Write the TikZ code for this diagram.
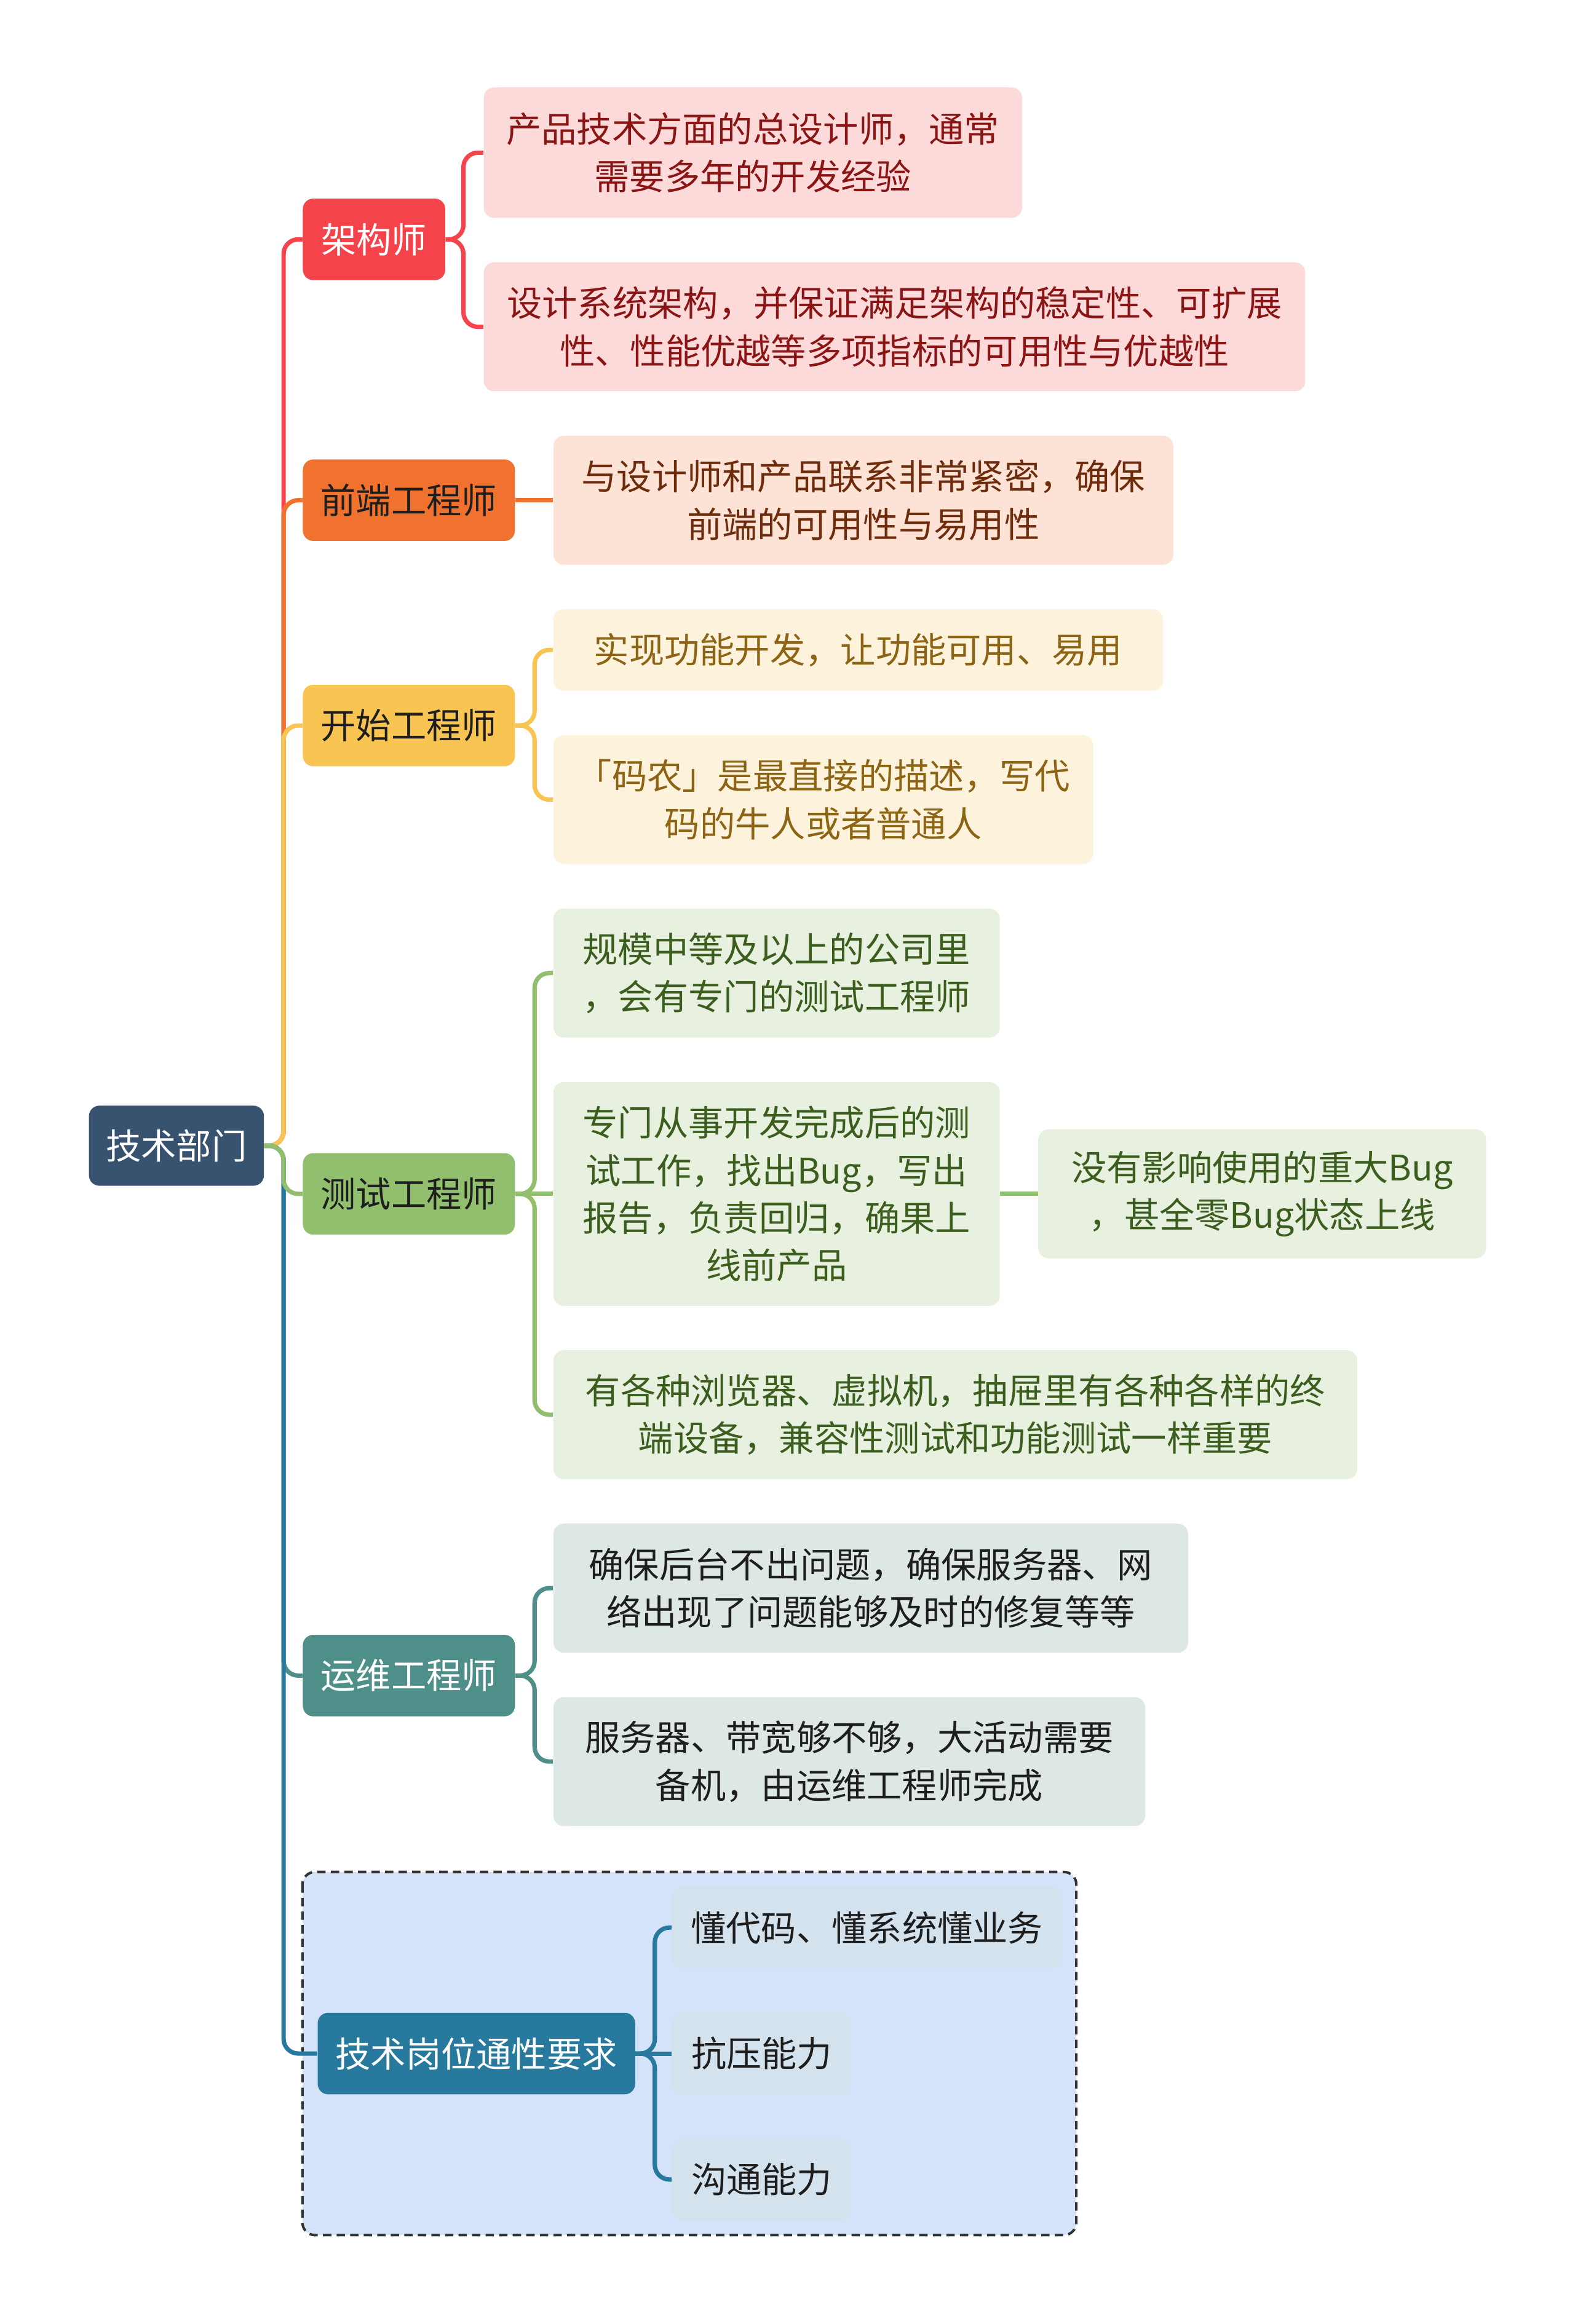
\documentclass[tikz,border=0pt]{standalone}
\usepackage{fontspec}
\setmainfont{Noto Sans CJK SC}
\usepackage{tikz}

\definecolor{rootnavy}{HTML}{37536F}
\definecolor{archred}{HTML}{F4434A}
\definecolor{archfill}{HTML}{FCDADA}
\definecolor{archtext}{HTML}{8B1414}
\definecolor{feorange}{HTML}{F0722E}
\definecolor{fefill}{HTML}{FCE3D6}
\definecolor{fetext}{HTML}{6E2C0C}
\definecolor{devyellow}{HTML}{F8C553}
\definecolor{devfill}{HTML}{FDF3DC}
\definecolor{devtext}{HTML}{8C6414}
\definecolor{testgreen}{HTML}{92BF6E}
\definecolor{testfill}{HTML}{E8F1E0}
\definecolor{testtext}{HTML}{3B5E1E}
\definecolor{opsteal}{HTML}{4E8F8A}
\definecolor{opsfill}{HTML}{DDE8E6}
\definecolor{comblue}{HTML}{27799E}
\definecolor{comfill}{HTML}{D3E2EC}
\definecolor{boxblue}{HTML}{D5E3FA}
\definecolor{darktext}{HTML}{1E1E1E}

\tikzset{
  txt/.style={font=\fontsize{16.9}{22.8}\selectfont, align=center},
  topic/.style={txt, rounded corners=5pt, anchor=west, minimum height=1.375cm, inner xsep=0.3cm},
  leaf/.style={txt, rounded corners=5pt, anchor=west, inner xsep=0.3cm},
  link/.style={line width=2.1pt, rounded corners=7pt},
}

\begin{document}
\begin{tikzpicture}[x=0.025cm, y=-0.025cm]
\useasboundingbox (0,0) rectangle (1062,1568);

% frame round the common requirements
\draw[dashed, dash pattern=on 4pt off 2.5pt, line width=1.2pt, draw=black!80, fill=boxblue, rounded corners=6pt] (204,1263) rectangle (726,1508);

% root
\node[txt, fill=rootnavy, text=white, rounded corners=5pt, minimum width=2.95cm, minimum height=1.35cm] (root) at (119,773) {技术部门};

% main topics
\node[topic, fill=archred, text=white, minimum width=2.4cm] (arch) at (204,161.5) {架构师};
\node[topic, fill=feorange, text=darktext, minimum width=3.575cm] (fe) at (204,337.5) {前端工程师};
\node[topic, fill=devyellow, text=darktext, minimum width=3.575cm] (dev) at (204,489.5) {开始工程师};
\node[topic, fill=testgreen, text=darktext, minimum width=3.575cm] (test) at (204,805.5) {测试工程师};
\node[topic, fill=opsteal, text=white, minimum width=3.575cm] (ops) at (204,1130.5) {运维工程师};
\node[topic, fill=comblue, text=white, minimum width=5.35cm] (com) at (214,1385.5) {技术岗位通性要求};

% architect
\node[leaf, fill=archfill, text=archtext, minimum width=9.075cm, minimum height=2.2cm] (a1) at (326,103) {产品技术方面的总设计师，通常\\需要多年的开发经验};
\node[leaf, fill=archfill, text=archtext, minimum width=13.85cm, minimum height=2.175cm] (a2) at (326,220.5) {设计系统架构，并保证满足架构的稳定性、可扩展\\性、性能优越等多项指标的可用性与优越性};

% front end
\node[leaf, fill=fefill, text=fetext, minimum width=10.45cm, minimum height=2.175cm] (b1) at (373,337.5) {与设计师和产品联系非常紧密，确保\\前端的可用性与易用性};

% developer
\node[leaf, fill=devfill, text=devtext, minimum width=10.275cm, minimum height=1.375cm] (c1) at (373,438.5) {实现功能开发，让功能可用、易用};
\node[leaf, fill=devfill, text=devtext, minimum width=9.1cm, minimum height=2.175cm] (c2) at (373,539.5) {「码农」是最直接的描述，写代\\码的牛人或者普通人};

% tester
\node[leaf, fill=testfill, text=testtext, minimum width=7.525cm, minimum height=2.175cm] (d1) at (373,656.5) {规模中等及以上的公司里\\，会有专门的测试工程师};
\node[leaf, fill=testfill, text=testtext, minimum width=7.525cm, minimum height=3.775cm] (d2) at (373,805.5) {专门从事开发完成后的测\\试工作，找出Bug，写出\\报告，负责回归，确果上\\线前产品};
\node[leaf, fill=testfill, text=testtext, minimum width=7.55cm, minimum height=2.175cm] (d2a) at (700,805.5) {没有影响使用的重大Bug\\，甚全零Bug状态上线};
\node[leaf, fill=testfill, text=testtext, minimum width=13.55cm, minimum height=2.175cm] (d3) at (373,954.5) {有各种浏览器、虚拟机，抽屉里有各种各样的终\\端设备，兼容性测试和功能测试一样重要};

% operations
\node[leaf, fill=opsfill, text=darktext, minimum width=10.7cm, minimum height=2.175cm] (e1) at (373,1071.5) {确保后台不出问题，确保服务器、网\\络出现了问题能够及时的修复等等};
\node[leaf, fill=opsfill, text=darktext, minimum width=9.975cm, minimum height=2.175cm] (e2) at (373,1188.5) {服务器、带宽够不够，大活动需要\\备机，由运维工程师完成};

% common requirements
\node[leaf, fill=comfill, text=darktext, minimum width=6.575cm, minimum height=1.375cm] (f1) at (453,1300.5) {懂代码、懂系统懂业务};
\node[leaf, fill=comfill, text=darktext, minimum width=3.025cm, minimum height=1.375cm] (f2) at (453,1385.5) {抗压能力};
\node[leaf, fill=comfill, text=darktext, minimum width=3.025cm, minimum height=1.375cm] (f3) at (453,1470.5) {沟通能力};

% trunk
\draw[link, archred] (root.east) -- ++(13,0) |- (arch.west);
\draw[link, feorange] (root.east) -- ++(13,0) |- (fe.west);
\draw[link, devyellow] (root.east) -- ++(13,0) |- (dev.west);
\draw[link, opsteal] (root.east) -- ++(13,0) |- (ops.west);
\draw[link, comblue] (root.east) -- ++(13,0) |- (com.west);
\draw[link, testgreen] (root.east) -- ++(13,0) |- (test.west);

% branches
\draw[link, archred] (arch.east) -- ++(12,0) |- (a1.west);
\draw[link, archred] (arch.east) -- ++(12,0) |- (a2.west);
\draw[link, feorange] (fe.east) -- (b1.west);
\draw[link, devyellow] (dev.east) -- ++(13,0) |- (c1.west);
\draw[link, devyellow] (dev.east) -- ++(13,0) |- (c2.west);
\draw[link, testgreen] (test.east) -- ++(13,0) |- (d1.west);
\draw[link, testgreen] (test.east) -- (d2.west);
\draw[link, testgreen] (test.east) -- ++(13,0) |- (d3.west);
\draw[link, testgreen] (d2.east) -- (d2a.west);
\draw[link, opsteal] (ops.east) -- ++(13,0) |- (e1.west);
\draw[link, opsteal] (ops.east) -- ++(13,0) |- (e2.west);
\draw[link, comblue] (com.east) -- ++(13,0) |- (f1.west);
\draw[link, comblue] (com.east) -- (f2.west);
\draw[link, comblue] (com.east) -- ++(13,0) |- (f3.west);
\end{tikzpicture}
\end{document}
